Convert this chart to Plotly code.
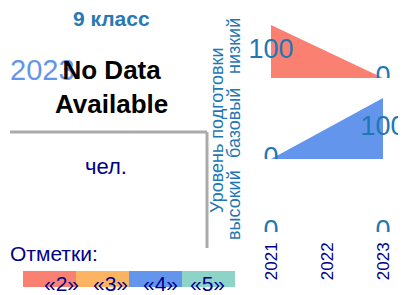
import plotly.graph_objects as go
from plotly.subplots import make_subplots

# ---- data ----
years = [2021, 2023]
tick_years = [2021, 2022, 2023]
level_names = ["низкий", "базовый", "высокий"]
low_vals = [100, 0]
base_vals = [0, 100]
high_vals = [0, 0]
grade_labels = ["«2»", "«3»", "«4»", "«5»"]
grade_colors = ["#FA8072", "#FDB462", "#6495ED", "#8DD3C7"]
level_colors = ["#FA8072", "#6495ED", "#8DD3C7"]
title_text = "9 класс"
year_text = "2023"
nodata_text = "No Data<br>Available"
unit_text = "чел."
legend_title = "Отметки:"
axis_title = "Уровень подготовки"

OFF = 8  # page body margin
W, H = 398, 287
FONT = "Liberation Sans, Arial, sans-serif"
VAL_COLOR = "#1f77b4"
NAVY = "#00008B"


def px(x):
    return (x - OFF) / W


def py(y):
    return 1 - (y - OFF) / H


fig = make_subplots(rows=3, cols=1, shared_xaxes=False)

series = [low_vals, base_vals, high_vals]
for i, vals in enumerate(series):
    r = i + 1
    fig.add_trace(go.Scatter(
        x=years, y=vals, mode="lines", fill="tozeroy",
        line=dict(width=0, color=level_colors[i]),
        fillcolor=level_colors[i], hoverinfo="skip", showlegend=False,
    ), row=r, col=1)
    fig.add_trace(go.Scatter(
        x=years, y=[v / 2 for v in vals], mode="text",
        text=[str(v) for v in vals], textposition="middle center",
        textfont=dict(family=FONT, size=27, color=VAL_COLOR),
        cliponaxis=True, hoverinfo="skip", showlegend=False,
    ), row=r, col=1)

# pixel layout of the three rows (top, bottom in screen px)
rows_px = [(25, 78), (98, 159), (172, 232)]
xr = [2021 - 26 / 56, 2023 + 23 / 56]
for i, (t, b) in enumerate(rows_px):
    ax = "xaxis" if i == 0 else f"xaxis{i+1}"
    ay = "yaxis" if i == 0 else f"yaxis{i+1}"
    fig.layout[ay].update(domain=[py(b), py(t)], range=[0, 100], visible=False,
                          fixedrange=True)
    fig.layout[ax].update(domain=[px(245), 1], range=xr, showgrid=False,
                          zeroline=False, showline=False,
                          tickvals=tick_years, ticktext=[str(y) for y in tick_years],
                          showticklabels=(i == 2), tickangle=-90,
                          tickfont=dict(family=FONT, size=17, color=NAVY),
                          ticks="", ticklabelstandoff=6)


def note(x, y, text, size, color, xanchor="center", angle=0):
    return dict(x=px(x), y=py(y), xref="paper", yref="paper", text=text,
                showarrow=False, textangle=angle,
                font=dict(family=FONT, size=size, color=color),
                xanchor=xanchor, yanchor="middle")


ann = []
ann.append(note(111, 18, f"<b>{title_text}</b>", 21, "#2878B5"))
ann.append(note(8, 70, year_text, 29, "#6495ED", xanchor="left"))
ann.append(note(111, 87, f"<b>{nodata_text}</b>", 26, "black"))
ann.append(note(106, 166, unit_text, 22, NAVY))
ann.append(note(8, 253, legend_title, 21, NAVY, xanchor="left"))
ann.append(note(217, 130, axis_title, 18, VAL_COLOR, angle=-90))
for name, yc in zip(level_names, [46, 123, 205]):
    ann.append(note(234, yc, name, 18, VAL_COLOR, angle=-90))

shapes = []
box_x = [23, 76, 129, 182, 235]
lab_x = [61, 110, 160, 208]
for i, (lab, col) in enumerate(zip(grade_labels, grade_colors)):
    shapes.append(dict(type="rect", xref="paper", yref="paper",
                       x0=px(box_x[i]), x1=px(box_x[i + 1]), y0=py(287), y1=py(271),
                       fillcolor=col, line=dict(width=0), layer="below"))
    ann.append(note(lab_x[i], 283, lab, 21, NAVY))

shapes.append(dict(type="line", xref="paper", yref="paper",
                   x0=px(10), x1=px(207), y0=py(132), y1=py(132),
                   line=dict(color="#AAAAAA", width=3)))
shapes.append(dict(type="line", xref="paper", yref="paper",
                   x0=px(207), x1=px(207), y0=py(132), y1=py(248),
                   line=dict(color="#AAAAAA", width=3)))

fig.update_layout(width=W, height=H, margin=dict(l=0, r=0, t=0, b=0),
                  paper_bgcolor="white", plot_bgcolor="white",
                  annotations=ann, shapes=shapes, showlegend=False)

fig.write_html("out.html", config={"displayModeBar": False})
